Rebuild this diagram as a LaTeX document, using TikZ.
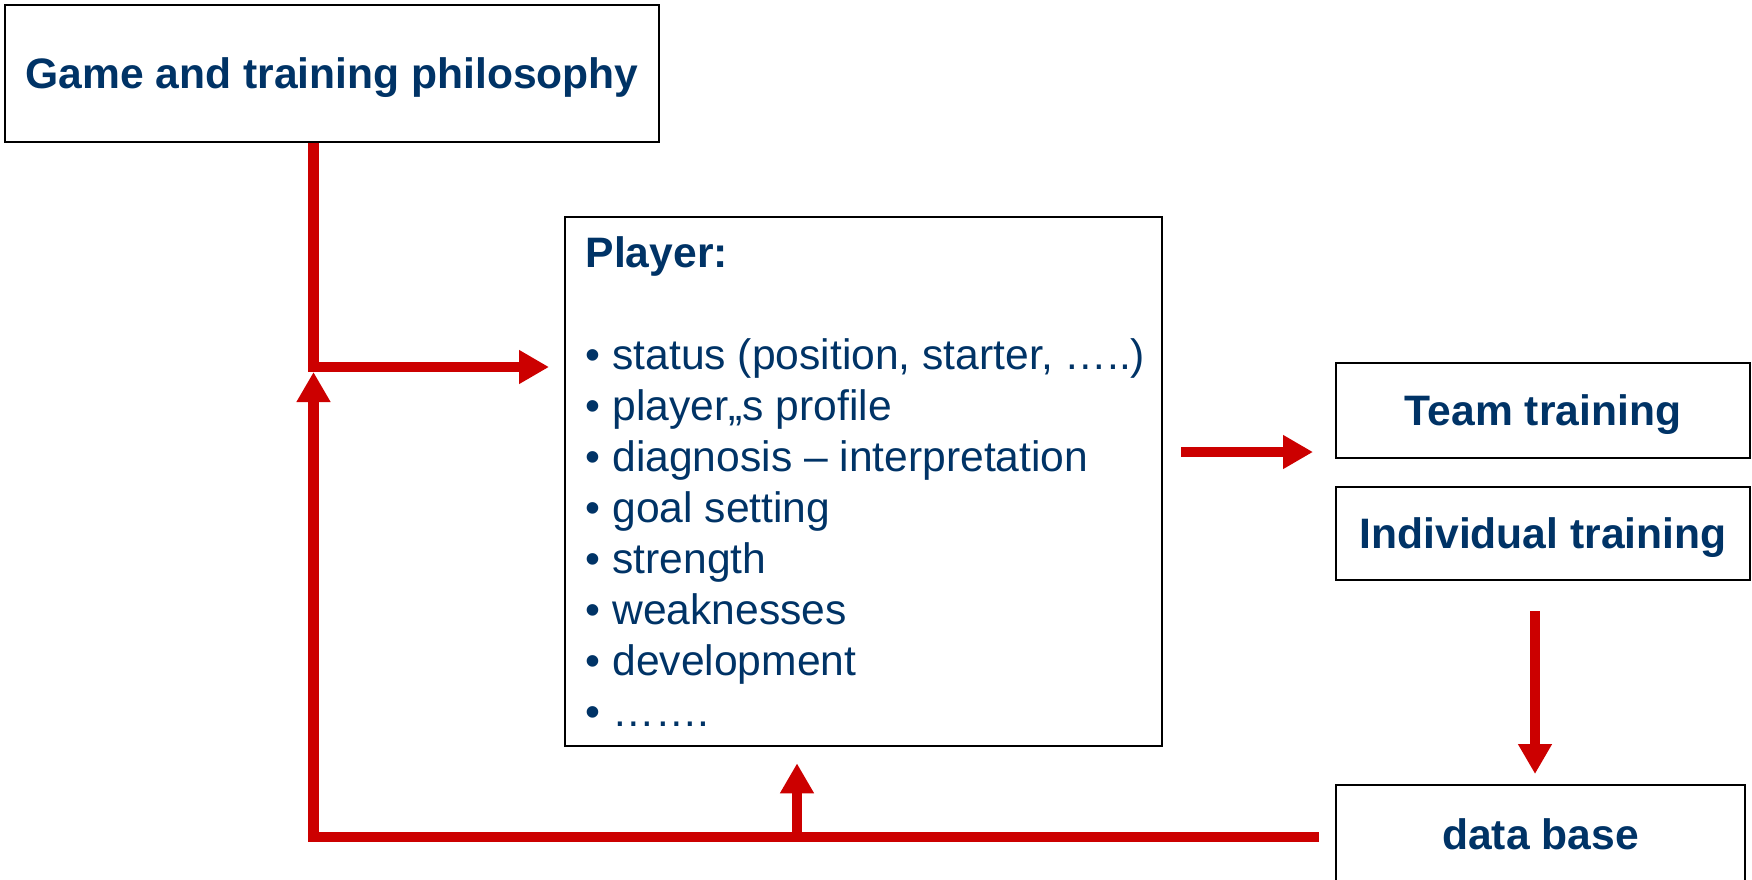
\documentclass[tikz,border=0pt]{standalone}
\usepackage{fontspec}
\setmainfont{Liberation Sans}
\usetikzlibrary{arrows.meta}
\definecolor{dblue}{RGB}{0,51,102}
\definecolor{dred}{RGB}{204,0,0}
\begin{document}
\begin{tikzpicture}[x=1pt,y=-1pt,
  box/.style={draw=black, line width=2pt, fill=white, inner sep=0pt, text=dblue,
    font=\fontsize{42.6}{50}\selectfont\bfseries, text height=30pt, text depth=0pt},
  redline/.style={draw=dred, line width=10.5pt, line join=miter},
  redarrow/.style={redline, -{Triangle[length=30pt,width=32pt]}},
  listtext/.style={anchor=base west, inner sep=0pt, text=dblue, font=\fontsize{42.6}{51}\selectfont}
]
\useasboundingbox (0,0) rectangle (1752,879);
% boxes
\node[box, minimum width=654pt, minimum height=137pt] (game) at (332,73.5) {Game and training philosophy};
\node[draw=black, line width=2pt, minimum width=597pt, minimum height=529.6pt, inner sep=0pt] (player) at (863.5,481.5) {};
\node[listtext] (plist) at (585.5,267) {\vtop{\baselineskip=51pt
  \hbox{\bfseries Player:}
  \hbox{}
  \hbox{• status (position, starter, …..)}
  \hbox{• player„s profile}
  \hbox{• diagnosis – interpretation}
  \hbox{• goal setting}
  \hbox{• strength}
  \hbox{• weaknesses}
  \hbox{• development}
  \hbox{• …….}}};
\node[box, minimum width=414pt, minimum height=95pt] (team) at (1543,410.5) {Team training};
\node[box, minimum width=414pt, minimum height=93pt] (indiv) at (1543,533.5) {Individual training};
\node[box, minimum width=409pt, minimum height=98pt] (db) at (1540.5,834) {data base};
% helper coordinates
\coordinate (j1) at (313.5,367);
\coordinate (c2) at (313.5,837);
\coordinate (c3) at (797,837);
\coordinate (t1) at (1180,452);
\coordinate (d1) at (1535,600);
% connectors
\draw[redarrow, shorten >=15pt] (game.south -| j1) -- (j1) -- (player.west |- j1);
\draw[redarrow, shorten <=18pt, shorten >=22pt] (player.east |- t1) -- (team.west |- t1);
\draw[redarrow, shorten <=30pt, shorten >=10pt] (indiv.south -| d1) -- (db.north -| d1);
\draw[redarrow, shorten <=16pt, shorten >=5pt] (db.west |- c2) -- (c2) -- (j1);
\draw[redarrow, shorten >=16pt] (c3) -- (player.south -| c3);
\end{tikzpicture}
\end{document}
